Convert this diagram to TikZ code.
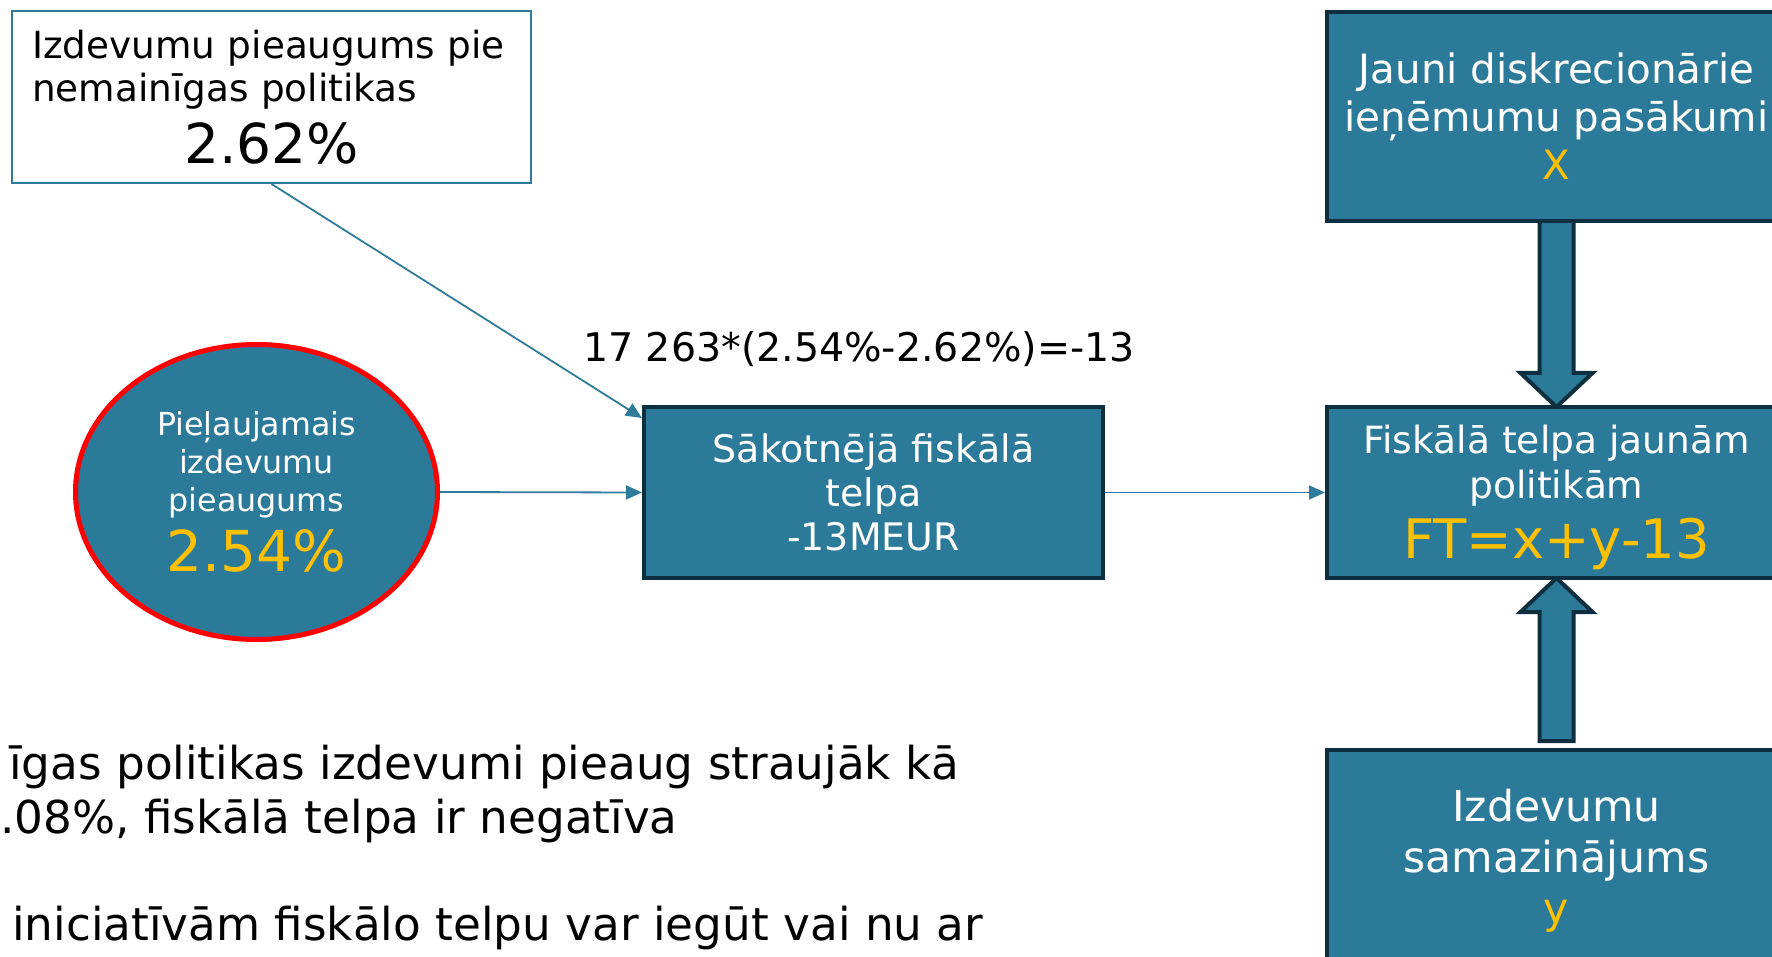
\documentclass[tikz,border=0pt]{standalone}
\usepackage{fontspec}
\setmainfont{DejaVu Sans}
\usetikzlibrary{arrows.meta,calc,shapes.geometric}
\definecolor{tealfill}{HTML}{2B7A9A}
\definecolor{darkedge}{HTML}{0D2F40}
\definecolor{yel}{HTML}{FFC000}
\definecolor{lineteal}{HTML}{2E7B9C}
\definecolor{redring}{HTML}{FF0000}
\begin{document}
\begin{tikzpicture}[x=1pt,y=-1pt,
  tbox/.style={draw=darkedge,line width=4pt,fill=tealfill,text=white,align=center,inner sep=0pt,minimum width=459pt},
  conn/.style={draw=lineteal,line width=1.8pt,-{Triangle[length=16pt,width=14pt]}},
  blockarrow/.style={draw=darkedge,line width=4pt,fill=tealfill,line join=miter},
  bottomtext/.style={anchor=base west,inner sep=0pt,font=\fontsize{45.3}{52}\selectfont}]
\useasboundingbox (0,0) rectangle (1772,957);

% block arrows (drawn first so that boxes cover their ends)
\coordinate (topS) at (1556.5,221);
\coordinate (ftN) at (1556.5,407);
\coordinate (ftS) at (1556.5,578);
\coordinate (botN) at (1556.5,750);
\draw[blockarrow] ($(topS)+(-17,0)$) -- ($(ftN)+(-17,-34)$) -- ($(ftN)+(-36,-34)$) -- (ftN)
  -- ($(ftN)+(36,-34)$) -- ($(ftN)+(17,-34)$) -- ($(topS)+(17,0)$) -- cycle;
\draw[blockarrow] ($(botN)+(-17,-9)$) -- ($(ftS)+(-17,34)$) -- ($(ftS)+(-36,34)$) -- (ftS)
  -- ($(ftS)+(36,34)$) -- ($(ftS)+(17,34)$) -- ($(botN)+(17,-9)$) -- cycle;

% nodes
\node[draw=lineteal,line width=2pt,fill=white,minimum width=519pt,minimum height=172pt,
  text width=479pt,align=left,inner sep=0pt,font=\fontsize{37.4}{43}\selectfont]
  (tl) at (271.5,97) {Izdevumu pieaugums pie\\nemainīgas politikas\\[13pt]
  \makebox[479pt][c]{\fontsize{55}{60}\selectfont 2.62\%}};

\node[ellipse,draw=redring,line width=5pt,fill=tealfill,text=white,align=center,
  minimum width=362pt,minimum height=295pt,inner sep=0pt,font=\fontsize{31.7}{38}\selectfont]
  (ell) at (256.5,492) {Pieļaujamais\\izdevumu\\pieaugums\\[10pt]{\fontsize{56.5}{60}\selectfont\color{yel}2.54\%}};

\node[tbox,minimum height=171pt,font=\fontsize{37.9}{44}\selectfont]
  (sak) at (873.5,492.5) {Sākotnējā fiskālā\\telpa\\-13MEUR};

\node[tbox,minimum height=209pt,font=\fontsize{40.4}{48}\selectfont]
  (top) at (1556.5,116.5) {Jauni diskrecionārie\\ieņēmumu pasākumi\\{\color{yel}X}};

\node[tbox,minimum height=171pt,font=\fontsize{37.5}{45}\selectfont]
  (ft) at (1556.5,492.5) {\rule{0pt}{38pt}Fiskālā telpa jaunām\\politikām\\[11pt]{\fontsize{54.4}{60}\selectfont\color{yel}FT=x+y-13}};

\node[tbox,minimum height=221pt,font=\fontsize{42.6}{51}\selectfont]
  (bot) at (1556.5,860.5) {Izdevumu\\samazinājums\\{\color{yel}y}};

\node[inner sep=0pt,font=\fontsize{39.5}{44}\selectfont] (calc) at (859,349.5) {17 263*(2.54\%-2.62\%)=-13};

% connectors
\draw[conn] (tl.south) -- ($(sak.north west)+(0,13)$);
\draw[conn] (ell.east) -- (sak.west);
\draw[conn] (sak.east) -- (ft.west);

% bottom text (cut off at the left edge)
\node[bottomtext] (t1) at (9,779) {īgas politikas izdevumi pieaug straujāk kā};
\node[bottomtext] (t2) at (0,833) {.08\%, fiskālā telpa ir negatīva};
\node[bottomtext] (t3) at (12,940) {iniciatīvām fiskālo telpu var iegūt vai nu ar};
\end{tikzpicture}
\end{document}
